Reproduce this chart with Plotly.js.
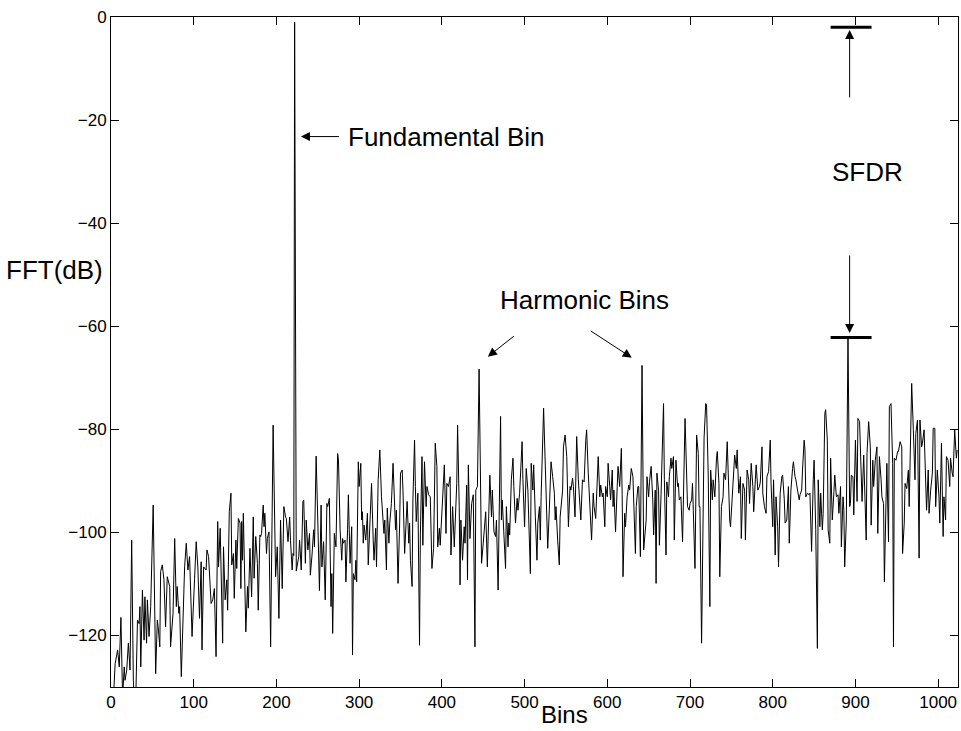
<!DOCTYPE html>
<html>
<head>
<meta charset="utf-8">
<script src="https://cdn.plot.ly/plotly-3.0.1.min.js"></script>
<style>
html,body{margin:0;padding:0;background:#fff;}
#chart{width:961px;height:731px;}
</style>
</head>
<body>
<div id="chart"></div>
<script>
// FFT bin index (at each visible turning point)
const bins = [3,5,8,10,12,14,16,17,19,21,23,25,27,28,30,32,34,35,36,38,40,41,43,44,46,48,51,53,54,56,57,59,60,62,64,66,68,71,72,75,77,79,80,82,83,85,87,89,91,93,95,96,98,101,103,105,107,109,110,112,115,116,118,121,123,125,127,129,130,
132,135,136,138,140,141,143,145,146,148,149,151,152,154,156,157,158,159,160,161,163,165,166,168,170,172,173,175,177,178,180,181,182,184,185,186,188,189,191,193,196,199,201,203,205,207,209,211,212,214,216,217,219,220,221,222,224,227,228,230,232,233,235,236,238,240,241,243,245,246,248,250,252,254,255,257,259,261,262,264,266,267,268,270,272,274,275,277,279,280,281,283,284,286,287,289,291,292,293,295,296,297,299,
300,302,303,304,305,306,308,310,311,313,315,317,318,320,321,323,325,327,329,330,331,333,334,336,337,339,341,342,344,345,347,349,350,352,353,355,356,358,360,361,362,364,365,367,368,369,371,373,374,376,377,379,381,382,384,386,388,390,392,394,395,397,398,
400,402,403,405,406,408,410,411,413,415,416,418,419,421,422,423,425,427,428,430,431,432,434,435,436,438,440,441,443,445,447,448,450,452,453,455,458,460,461,463,465,466,468,471,472,473,475,477,478,480,481,482,484,486,487,489,491,492,494,497,498,
500,502,504,507,508,510,511,513,515,516,518,519,520,523,524,526,528,530,532,534,536,537,538,540,542,543,546,547,549,551,553,555,556,558,559,561,563,565,567,568,570,572,574,575,577,579,581,583,584,586,588,589,591,592,594,595,597,598,
600,601,603,604,606,607,608,610,612,613,615,617,618,619,621,622,624,626,627,629,631,632,634,635,637,638,640,642,644,647,648,650,651,653,655,656,658,659,660,662,663,665,666,668,669,671,672,674,675,677,678,680,681,683,685,686,687,689,691,693,694,695,697,699,
700,702,703,704,706,708,710,711,712,714,716,717,719,720,722,724,725,727,728,730,732,733,735,736,738,740,741,743,745,746,748,749,751,753,754,756,757,759,761,762,764,766,767,769,771,772,774,776,777,779,780,782,784,785,787,788,790,792,793,795,797,798,
800,801,803,804,806,807,809,811,812,814,815,817,819,820,822,824,825,827,828,830,832,833,835,836,838,839,840,842,844,845,847,849,850,852,854,855,857,858,860,861,863,864,866,867,869,870,872,874,875,877,879,880,882,883,885,886,887,889,891,893,894,895,897,898,
900,902,903,905,906,908,910,911,913,914,916,918,919,921,922,924,926,927,929,931,932,934,935,937,938,940,941,943,945,946,947,949,951,952,954,956,957,959,960,962,964,965,967,968,970,972,973,975,977,978,980,981,983,985,986,988,989,991,993,994,996,997,999,
1001,1002,1004,1006,1007,1009,1010,1012,1014,1015,1017,1018,1020,1022,1023];

// FFT magnitude in dB at each of those bins
const fftDb = [-132,-125.5,-122.8,-126.1,-116.5,-132,-126.1,-128.7,-126.7,-121.5,-126.7,-101.5,-128.7,-132,-132,-117,-117.7,-114.4,-126.1,-111.2,-120.9,-112.5,-121.5,-113.1,-120.2,-114.4,-94.7,-111.8,-127.4,-117,-118.3,-122.2,-107.6,-106.3,-109.2,-118.3,-108.6,-110.5,-122.2,-115.7,-101.2,-114.4,-110.5,-115.7,-114.4,-128,-115.7,-106.7,-102.1,-107.3,-104.7,-111.8,-120.2,-109.2,-101.8,-106.7,-116.7,-105.7,-122.8,-106.7,-107.3,-103.4,-104.7,-113.8,-113.1,-110.9,-124.1,-97.9,-106.7,
-99.2,-121.5,-102.8,-113.1,-109.2,-115.1,-96,-92.4,-106.3,-104.1,-112.8,-101.5,-107,-97.3,-98.2,-110.9,-97.9,-105.4,-96.3,-102.8,-119.3,-110.5,-114.7,-103.1,-112.5,-97,-108.9,-100.8,-106,-115.1,-100.5,-100.8,-100.2,-94.7,-98.9,-96.3,-104.1,-101.2,-99.9,-122.2,-79.2,-108.6,-102.8,-116.7,-97.6,-110.9,-95,-97,-97.3,-101.8,-97,-101.5,-107.3,-104.1,-104.5,-1,-107.5,-104.7,-101.5,-107.3,-94,-93.7,-106,-97.6,-103.4,-100.2,-108.3,-104.4,-99.5,-102.8,-85.2,-97.6,-111.3,-94.7,-106.7,-101.8,-113.1,-94.4,-95,-93.4,-114.4,-108,-119.6,-100.2,-102.8,-84.7,-86,-99.5,-105.4,-101.2,-102.1,-101.5,-109.6,-99.5,-92.7,-106,-98.9,-123.8,-108,-109.2,-105.4,-109.6,-86.3,
-91.1,-86.6,-97.6,-96,-102.1,-98.6,-101.5,-96.3,-106.3,-96.3,-90.5,-101.5,-105.4,-99.2,-106.7,-89.8,-84,-93.1,-97.6,-100.2,-97.6,-107.3,-95.3,-102.1,-98.2,-94.4,-86.6,-91.8,-99.5,-95.7,-109.9,-98.2,-88.5,-87.9,-91.8,-104.1,-100.8,-94,-102.1,-98.2,-105.4,-110.5,-93.7,-82.1,-91.1,-97.9,-92.4,-121.9,-100.5,-85.3,-102.5,-86.3,-95,-91.1,-92.7,-93.1,-107,-103.1,-82.7,-87.2,-102.8,-99.2,-102.5,
-96.3,-91.1,-86.9,-100.2,-90.5,-91.1,-89.2,-104.4,-95,-102.8,-97.6,-90.5,-79.2,-95,-110.2,-97.6,-105.4,-98.9,-102.1,-90.8,-109.2,-86.9,-101.2,-96.6,-94.4,-92.7,-122.2,-91.8,-91.1,-68.3,-98.9,-106,-102.1,-97,-96,-106.7,-88.9,-97,-91.8,-99.9,-100.8,-97.6,-111.2,-77.5,-97.6,-93.7,-101.5,-107,-95,-102.8,-98.2,-100.5,-89.8,-85.6,-91.1,-98.2,-93.4,-95.7,-92.4,-82.4,-89.8,
-98.9,-87.6,-91.8,-108,-86.6,-91.8,-86.9,-97,-105.4,-98.2,-95,-101.5,-93.1,-75.9,-80.8,-91.1,-103.1,-95.3,-86.3,-89.2,-92.4,-97.6,-95,-101.5,-106.3,-97,-91.8,-83.4,-81.1,-85.3,-98.9,-91.1,-91.8,-89.5,-91.1,-97,-81.4,-89.8,-97,-97.6,-89.8,-90.2,-82.1,-80.1,-88.5,-95,-101.5,-92.4,-95,-97.3,-86.6,-85.3,-93.1,-90.8,-93.1,-92.4,-98.9,-91.1,
-93.1,-86.6,-91.1,-93.7,-87.9,-95,-91.8,-99.9,-91.1,-87.2,-91.1,-83.7,-92.7,-108.6,-96.3,-98.9,-93.1,-90.8,-91.8,-87.6,-89.2,-95,-104.1,-95,-91.1,-91.1,-104.7,-67.6,-103.4,-97.6,-89.2,-93.1,-90.2,-87.2,-93.7,-100.5,-91.8,-109.9,-88.5,-91.8,-102.5,-92.7,-84.7,-75,-89.8,-104.4,-90.2,-93.1,-89.2,-85.6,-87.6,-85.3,-101.5,-86,-91.1,-90.5,-93.7,-93.1,-101.8,-85.3,-77.9,-83.4,-95,-95.7,
-94.4,-93.7,-90.5,-95.7,-107,-81.1,-84.7,-95,-95,-121.5,-97.6,-81.7,-75,-75.3,-88.5,-114.4,-87.9,-93.7,-89.8,-93.1,-85.6,-84.3,-90.5,-108.6,-95,-93.1,-88.5,-89.8,-82.4,-88.5,-97.6,-98.9,-93.1,-89.5,-85,-87.6,-84,-92.4,-89.2,-101.2,-90.5,-91.8,-101.5,-87.9,-89.8,-94.4,-86.6,-91.1,-96,-89.8,-86.9,-91.8,-91.1,-90.2,-83.4,-92.4,-95,-96.3,-89.2,-88.2,-82.1,-90.5,
-98.9,-89.8,-104.4,-93.1,-98.9,-106.7,-92.4,-89.2,-88.9,-93.7,-98.2,-97.6,-91.1,-102.1,-91.8,-87.6,-86.3,-89.2,-89.8,-91.8,-93.7,-92.7,-91.8,-87.9,-82.1,-84,-93.1,-92.4,-92.7,-92.4,-103.7,-89.8,-86,-99.5,-122.5,-89.8,-98.9,-92.4,-99.5,-96.3,-76.9,-76.2,-82.1,-99.5,-102.1,-85.6,-97.6,-92.1,-88.9,-93.1,-92.7,-96.3,-91.1,-102.8,-93.1,-95.7,-106.7,-97.6,-62.2,-95,-94.4,-88.9,-89.2,-96.6,
-82.1,-94,-77.9,-78.5,-84,-94,-85,-90.5,-101.5,-84.7,-78.5,-83.4,-98.6,-86,-91.1,-86,-83.4,-100.2,-85.3,-89.8,-93.1,-94.4,-109.6,-93.7,-86.6,-101.8,-75.6,-75,-86.6,-122.2,-85.6,-86,-84.3,-84.3,-82.4,-83.4,-104.1,-98.2,-90.5,-91.5,-87.9,-95,-76.9,-71.1,-80.1,-89.8,-80.8,-78.2,-105,-78.2,-83.4,-82.7,-80.1,-91.8,-95.7,-87.9,-96.3,-91.8,-88.5,-79.8,-79.8,-95,-87.9,
-93.1,-98.2,-82.7,-100.8,-93.1,-97.6,-85.3,-86,-91.1,-85.6,-88.5,-89.2,-80.1,-85.6,-84];

const xTicks = [0,100,200,300,400,500,600,700,800,900,1000];
const yTicks = [-120,-100,-80,-60,-40,-20,0];

const FONT = '"Liberation Sans", Arial, Helvetica, sans-serif';

const trace = {
  x: bins, y: fftDb, type: 'scatter', mode: 'lines',
  line: {color: '#000', width: 1}, hoverinfo: 'skip'
};

const arrowCommon = {xref:'x', yref:'y', axref:'pixel', ayref:'pixel', showarrow:true,
  arrowhead:2, arrowsize:1.8, arrowwidth:1, arrowcolor:'#000', text:' ', font:{size:2}};

const layout = {
  width: 961, height: 731,
  margin: {l: 111, r: 3, t: 17, b: 44, pad: 0},
  paper_bgcolor: '#fff', plot_bgcolor: '#fff',
  showlegend: false,
  font: {family: FONT, size: 17, color: '#000'},
  xaxis: {
    range: [0, 1024], tickvals: xTicks, ticks: 'inside', ticklen: 8, tickwidth: 1, tickcolor: '#000',
    showline: true, linecolor: '#000', linewidth: 1, mirror: 'ticks', showgrid: false, zeroline: false,
    tickfont: {family: FONT, size: 17, color: '#000'}
  },
  yaxis: {
    range: [-130, 0], tickvals: yTicks, ticks: 'inside', ticklen: 8, tickwidth: 1, tickcolor: '#000',
    showline: true, linecolor: '#000', linewidth: 1, mirror: 'ticks', showgrid: false, zeroline: false,
    tickfont: {family: FONT, size: 17, color: '#000'}
  },
  shapes: [
    {type:'line', xref:'x', yref:'y', x0: 870, x1: 919.5, y0: -2, y1: -2, line:{color:'#000', width:3}},
    {type:'line', xref:'x', yref:'y', x0: 870, x1: 919.5, y0: -62.2, y1: -62.2, line:{color:'#000', width:3}}
  ],
  annotations: [
    {xref:'paper', yref:'paper', x: -0.067, y: 0.622, text:'FFT(dB)', showarrow:false,
     xanchor:'center', yanchor:'middle', font:{family:FONT, size:26, color:'#000'}},
    {xref:'paper', yref:'paper', x: 0.536, y: -0.064, text:'Bins', showarrow:false,
     xanchor:'center', yanchor:'bottom', font:{family:FONT, size:24, color:'#000'}},
    {xref:'x', yref:'y', x: 284, y: -23.2, text:'Fundamental Bin', showarrow:false,
     xanchor:'left', yanchor:'middle', font:{family:FONT, size:26, color:'#000'}},
    {xref:'x', yref:'y', x: 915, y: -30, text:'SFDR', showarrow:false,
     xanchor:'center', yanchor:'middle', font:{family:FONT, size:26, color:'#000'}},
    {xref:'x', yref:'y', x: 572, y: -55, text:'Harmonic Bins', showarrow:false,
     xanchor:'center', yanchor:'middle', font:{family:FONT, size:26, color:'#000'}},
    Object.assign({}, arrowCommon, {x: 229.6, y: -23.2, ax: 40, ay: 0}),
    Object.assign({}, arrowCommon, {x: 893, y: -2.5, ax: 0, ay: 70}),
    Object.assign({}, arrowCommon, {x: 893, y: -61.3, ax: 0, ay: -80}),
    Object.assign({}, arrowCommon, {x: 455.6, y: -65.9, ax: 28, ay: -22}),
    Object.assign({}, arrowCommon, {x: 629.6, y: -66.1, ax: -43, ay: -28})
  ]
};

Plotly.newPlot('chart', [trace], layout, {displayModeBar: false, staticPlot: true});
</script>
</body>
</html>
